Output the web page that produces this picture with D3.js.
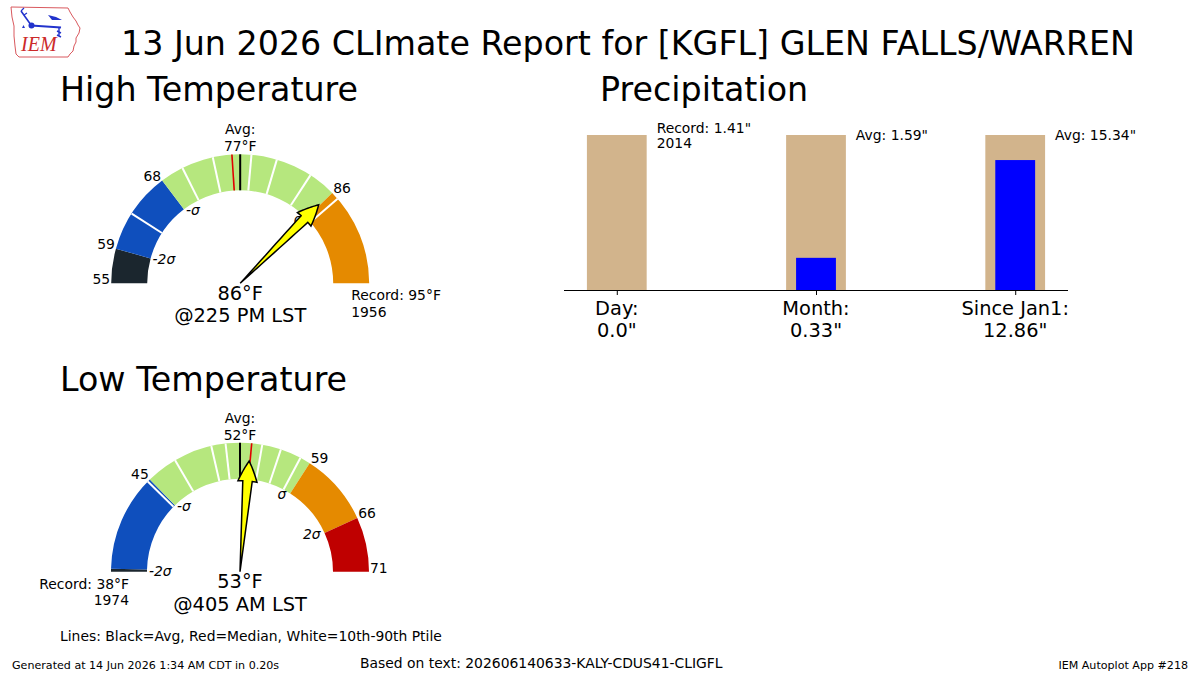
<!DOCTYPE html>
<html>
<head>
<meta charset="utf-8">
<script src="https://cdn.jsdelivr.net/npm/d3@7"></script>
<style>
  html, body { margin: 0; padding: 0; background: #fff; }
  svg { display: block; font-family: "DejaVu Sans", sans-serif; }
</style>
</head>
<body>
<svg id="chart" width="1200" height="675"></svg>
<script>
// ---------------- DATA ----------------
const reportTitle = "13 Jun 2026 CLImate Report for [KGFL] GLEN FALLS/WARREN";
const gaugeTitles = ["High Temperature", "Low Temperature"];
const gaugeObserved = [86, 53];
const gaugeTimes = ["@225 PM LST", "@405 AM LST"];
const gaugeAvg = [77, 52];
const gaugeStd = [9.1, 6.9];
const gaugeMedian = [76.1, 53.1];
const gaugeMin = [55, 38];
const gaugeMax = [95, 71];
const gaugeRecord = [95, 38];
const gaugeRecordYear = [1956, 1974];
const highPercentiles = [63, 70.5, 74, 78, 80.3, 83.6, 86.8];
const lowPercentiles = [44.9, 47.3, 50, 51, 54.1, 55.9, 57.9];
const gaugePercentiles = [highPercentiles, lowPercentiles];
const sigmaSteps = [-2, -1, 1, 2];
const sigmaLabels = ["-2\u03c3", "-\u03c3", "\u03c3", "2\u03c3"];
const bandColors = ["#1b262e", "#0f4fbd", "#b6e77e", "#e58a00", "#bf0000"];

const precipCategories = ["Day", "Month", "Since Jan1"];
const precipObserved = [0.0, 0.33, 12.86];
const precipCompare = [1.41, 1.59, 15.34];
const precipObservedText = ["0.0\"", "0.33\"", "12.86\""];
const precipCompareText = [["Record: 1.41\"", "2014"], ["Avg: 1.59\""], ["Avg: 15.34\""]];

const footerLines = "Lines: Black=Avg, Red=Median, White=10th-90th Ptile";
const generatedText = "Generated at 14 Jun 2026 1:34 AM CDT in 0.20s";
const basedOnText = "Based on text: 202606140633-KALY-CDUS41-CLIGFL";
const appText = "IEM Autoplot App #218";

// ---------------- LAYOUT ----------------
const svg = d3.select("#chart");
svg.append("rect").attr("width", 1200).attr("height", 675).attr("fill", "#fff");

// Logo (approximate IEM logo)
const logo = svg.append("g").attr("class", "logo");
logo.append("path")
  .attr("d", "M11,7 L68,8 L70,12 L73,17 L76,21 L78,25 L80,28 L79,33 L76,38 L76,42 L74,46 L73,51 L70,54 L68,57 L19,57 L16,54 L15,46 L14,36 L14,26 L12,17 Z")
  .attr("fill", "none").attr("stroke", "#d9595e").attr("stroke-width", 1);
logo.append("path").attr("d", "M21,11 L31,25").attr("stroke", "#2233cc").attr("stroke-width", 1.6).attr("fill", "none");
logo.append("path").attr("d", "M21,11 l3,-3 M24,15 l3,-2").attr("stroke", "#2233cc").attr("stroke-width", 1.2).attr("fill", "none");
logo.append("line").attr("x1", 31).attr("y1", 25.5).attr("x2", 61).attr("y2", 27.5).attr("stroke", "#2233cc").attr("stroke-width", 2);
logo.append("circle").attr("cx", 31.5).attr("cy", 25.5).attr("r", 3).attr("fill", "#2233cc");
logo.append("path").attr("d", "M48,15 L56,17 L62,20 L52,20 Z").attr("fill", "#2233cc");
logo.append("path").attr("d", "M59,27 L59,36 M57,31 L61,33 M57,35 L61,37").attr("stroke", "#2233cc").attr("stroke-width", 1.4).attr("fill", "none");
logo.append("path").attr("d", "M22,28 l1.5,-3 l1.5,3 Z").attr("fill", "#2233cc");
logo.append("text").attr("x", 21).attr("y", 51).attr("font-family", "Liberation Serif, serif")
  .attr("font-style", "italic").attr("font-size", 20).attr("fill", "#cc2a2a").text("IEM");

// Title
svg.append("text").attr("x", 628).attr("y", 55).attr("text-anchor", "middle")
  .attr("font-size", 33.3).attr("fill", "#000").text(reportTitle);

// ---------------- GAUGES ----------------
const gaugeCenters = [[240.2, 283.3], [240.0, 571.7]];
const titleBaselines = [101, 391];
const rOuter = 129, rInner = 93;
const arcGen = d3.arc();

gaugeTitles.forEach((title, gi) => {
  const [cx, cy] = gaugeCenters[gi];
  const avg = gaugeAvg[gi], sd = gaugeStd[gi];
  const vmin = gaugeMin[gi], vmax = gaugeMax[gi];
  // angle (math convention, radians; pi = left, 0 = right)
  const ang = d3.scaleLinear().domain([vmin, avg, vmax]).range([Math.PI, Math.PI / 2, 0]).clamp(true);
  const pt = (v, r) => [cx + r * Math.cos(ang(v)), cy - r * Math.sin(ang(v))];
  const d3a = v => Math.PI / 2 - ang(v);

  svg.append("text").attr("x", 60).attr("y", titleBaselines[gi]).attr("font-size", 33.3).text(title);

  const g = svg.append("g");
  // bands
  const bounds = [vmin].concat(sigmaSteps.map(k => Math.min(vmax, Math.max(vmin, avg + k * sd)))).concat([vmax]);
  for (let i = 0; i < bandColors.length; i++) {
    const a = bounds[i], b = bounds[i + 1];
    if (b - a <= 0) continue;
    g.append("path")
      .attr("transform", `translate(${cx},${cy})`)
      .attr("d", arcGen({ innerRadius: rInner, outerRadius: rOuter, startAngle: d3a(a), endAngle: d3a(b) }))
      .attr("fill", bandColors[i]);
  }
  // percentile lines
  gaugePercentiles[gi].forEach(v => {
    const p1 = pt(v, rInner), p2 = pt(v, rOuter);
    g.append("line").attr("x1", p1[0]).attr("y1", p1[1]).attr("x2", p2[0]).attr("y2", p2[1])
      .attr("stroke", "#fff").attr("stroke-width", 2);
  });
  // median & avg lines
  [[gaugeMedian[gi], "#e00000", 1.6], [avg, "#000", 2]].forEach(([v, c, w]) => {
    const p1 = pt(v, rInner), p2 = pt(v, rOuter);
    g.append("line").attr("x1", p1[0]).attr("y1", p1[1]).attr("x2", p2[0]).attr("y2", p2[1])
      .attr("stroke", c).attr("stroke-width", w);
  });

  // sigma & value labels
  sigmaSteps.forEach((k, si) => {
    const v = avg + k * sd;
    if (v < vmin - 0.01 || v > vmax + 0.01) return;
    const left = v < avg;
    const pin = pt(v, rInner);
    g.append("text").attr("x", pin[0] + (left ? 2 : -4)).attr("y", pin[1] + 1)
      .attr("dominant-baseline", "central")
      .attr("text-anchor", left ? "start" : "end").attr("font-size", 13.9)
      .attr("font-style", "italic").text(sigmaLabels[si]);
    if (Math.round(v) !== gaugeRecord[gi]) {
      const pout = pt(v, rOuter);
      g.append("text").attr("x", pout[0] + (left ? -1 : 1)).attr("y", pout[1])
        .attr("text-anchor", left ? "end" : "start").attr("font-size", 13.9).text(Math.round(v));
    }
  });
  [vmin, vmax].forEach((v, ei) => {
    if (v === gaugeRecord[gi]) return;
    const pout = pt(v, rOuter);
    g.append("text").attr("x", pout[0] + (ei === 0 ? -1 : 1)).attr("y", pout[1] + 1)
      .attr("text-anchor", ei === 0 ? "end" : "start").attr("font-size", 13.9).text(v);
  });
  // avg label
  g.append("text").attr("x", cx).attr("y", cy - rOuter - 20).attr("text-anchor", "middle").attr("font-size", 13.9).text("Avg:");
  g.append("text").attr("x", cx).attr("y", cy - rOuter - 3).attr("text-anchor", "middle").attr("font-size", 13.9).text(avg + "\u00b0F");

  // record label
  const recRight = ang(gaugeRecord[gi]) < Math.PI / 2;
  const rx = cx + (recRight ? 111 : -111);
  g.append("text").attr("x", rx).attr("y", cy + 17).attr("text-anchor", recRight ? "start" : "end")
    .attr("font-size", 13.9).text("Record: " + gaugeRecord[gi] + "\u00b0F");
  g.append("text").attr("x", rx).attr("y", cy + 33.5).attr("text-anchor", recRight ? "start" : "end")
    .attr("font-size", 13.9).text(gaugeRecordYear[gi]);

  // arrow (constructed in polar coordinates)
  const th = ang(gaugeObserved[gi]);
  const L = 111, hl = 20, sw = 0.052, hw = 0.105;
  const polys = [[th + sw, 0], [th + sw, L - hl], [th + hw, L - hl], [th, L], [th - hw, L - hl], [th - sw, L - hl], [th - sw, 0]];
  const pts = [];
  for (let i = 0; i < polys.length - 1; i++) {
    const [t0, r0] = polys[i], [t1, r1] = polys[i + 1];
    for (let s = 0; s < 12; s++) {
      const f = s / 12;
      const t = t0 + (t1 - t0) * f, r = r0 + (r1 - r0) * f;
      pts.push([cx + r * Math.cos(t), cy - r * Math.sin(t)]);
    }
  }
  pts.push([cx, cy]);
  g.append("path").attr("d", d3.line()(pts) + "Z").attr("fill", "#ffff00")
    .attr("stroke", "#000").attr("stroke-width", 1.5).attr("stroke-linejoin", "miter");

  // observed labels
  g.append("text").attr("x", cx).attr("y", cy + 16.5).attr("text-anchor", "middle").attr("font-size", 19.4)
    .text(gaugeObserved[gi] + "\u00b0F");
  g.append("text").attr("x", cx).attr("y", cy + 39).attr("text-anchor", "middle").attr("font-size", 19.4)
    .text(gaugeTimes[gi]);
});

// ---------------- PRECIPITATION ----------------
svg.append("text").attr("x", 600).attr("y", 101).attr("font-size", 33.3).text("Precipitation");
const px = d3.scaleLinear().domain([-0.265, 2.265]).range([564, 1068]);
const py = d3.scaleLinear().domain([0, 1]).range([290, 135]);
const pg = svg.append("g");
precipCategories.forEach((cat, i) => {
  const frac = precipObserved[i] / precipCompare[i];
  pg.append("rect").attr("x", px(i - 0.15)).attr("width", px(0.3) - px(0))
    .attr("y", py(1)).attr("height", py(0) - py(1)).attr("fill", "#d2b48c");
  if (frac > 0) {
    pg.append("rect").attr("x", px(i - 0.1)).attr("width", px(0.2) - px(0))
      .attr("y", py(frac)).attr("height", py(0) - py(frac)).attr("fill", "#0000ff");
  }
  const lines = precipCompareText[i];
  const lh = 15;
  lines.forEach((t, li) => {
    pg.append("text").attr("x", px(i + 0.2)).attr("y", py(1) + (li - (lines.length - 1) / 2) * lh)
      .attr("dominant-baseline", "central").attr("font-size", 13.9).text(t);
  });
});
const xAxis = d3.axisBottom(px).tickValues([0, 1, 2]).tickSize(5).tickFormat("");
const axG = pg.append("g").attr("transform", `translate(0,${py(0)})`).call(xAxis);
axG.select(".domain").attr("d", `M${px.range()[0]},0.5H${px.range()[1]}`).attr("stroke", "#000").attr("stroke-width", 1.2);
axG.selectAll(".tick line").attr("stroke", "#000").attr("stroke-width", 1);
precipCategories.forEach((cat, i) => {
  pg.append("text").attr("x", px(i)).attr("y", py(0) + 25).attr("text-anchor", "middle").attr("font-size", 19.4).text(cat + ":");
  pg.append("text").attr("x", px(i)).attr("y", py(0) + 47).attr("text-anchor", "middle").attr("font-size", 19.4).text(precipObservedText[i]);
});

// ---------------- FOOTER ----------------
svg.append("text").attr("x", 60).attr("y", 641).attr("font-size", 13.9).text(footerLines);
svg.append("text").attr("x", 12).attr("y", 669).attr("font-size", 11.1).text(generatedText);
svg.append("text").attr("x", 360).attr("y", 668).attr("font-size", 13.9).text(basedOnText);
svg.append("text").attr("x", 1188).attr("y", 669).attr("text-anchor", "end").attr("font-size", 11.1).text(appText);
</script>
</body>
</html>
